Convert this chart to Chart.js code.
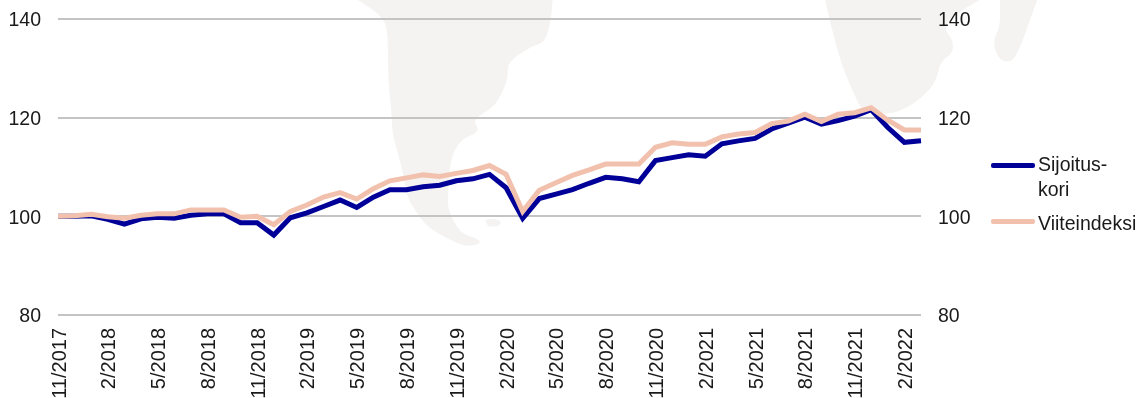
<!DOCTYPE html>
<html>
<head>
<meta charset="utf-8">
<style>
  html, body { margin: 0; padding: 0; background: #fff; overflow: hidden; }
  #wrap { position: relative; width: 1139px; height: 398px; overflow: hidden; }
  canvas { position: absolute; left: 0; top: 0; }
  .legend { position: absolute; left: 991px; font: 19.5px "Liberation Sans", Arial, sans-serif; color: #1a1a1a; line-height: 25px; white-space: pre; }
  .legend i { position: absolute; left: 0; width: 44px; height: 5px; border-radius: 2px; }
  .legend span { position: absolute; left: 47px; top: 0; }
</style>
</head>
<body>
<div id="wrap">
  <canvas id="chart" width="1139" height="398"></canvas>
  <div id="legend"></div>
</div>
<script src="https://cdn.jsdelivr.net/npm/chart.js@4"></script>
<script>
const months = [
  "11/2017", "12/2017", "1/2018", "2/2018", "3/2018", "4/2018", "5/2018", "6/2018", "7/2018", "8/2018", "9/2018", "10/2018",
  "11/2018", "12/2018", "1/2019", "2/2019", "3/2019", "4/2019", "5/2019", "6/2019", "7/2019", "8/2019", "9/2019", "10/2019",
  "11/2019", "12/2019", "1/2020", "2/2020", "3/2020", "4/2020", "5/2020", "6/2020", "7/2020", "8/2020", "9/2020", "10/2020",
  "11/2020", "12/2020", "1/2021", "2/2021", "3/2021", "4/2021", "5/2021", "6/2021", "7/2021", "8/2021", "9/2021", "10/2021",
  "11/2021", "12/2021", "1/2022", "2/2022", "3/2022",
]
const sijoituskori = [
  100, 100, 100.1, 99.4, 98.4, 99.5, 99.8, 99.6, 100.2, 100.5, 100.5, 98.7,
  98.7, 96.2, 99.7, 100.7, 102, 103.3, 101.8, 103.9, 105.4, 105.4, 106, 106.3,
  107.2, 107.6, 108.5, 105.8, 99.6, 103.6, 104.5, 105.4, 106.7, 107.9, 107.6, 107,
  111.3, 111.9, 112.5, 112.2, 114.7, 115.3, 115.8, 117.7, 118.9, 120.1, 118.7, 119.4,
  120.3, 121.6, 118, 115, 115.3,
]
const viiteindeksi = [
  100, 100.1, 100.4, 99.9, 99.6, 100.2, 100.5, 100.5, 101.3, 101.3, 101.3, 99.8,
  100, 98.3, 101, 102.3, 103.9, 104.8, 103.5, 105.6, 107.2, 107.8, 108.4, 108.1,
  108.7, 109.3, 110.3, 108.5, 101, 105.3, 106.8, 108.3, 109.4, 110.6, 110.6, 110.6,
  114, 114.9, 114.6, 114.6, 116.1, 116.7, 117, 118.8, 119.3, 120.7, 119.2, 120.7,
  121, 122, 119.5, 117.5, 117.5,
]
const yTicks = [80, 100, 120, 140]
const legendNames = ["Sijoitus-\nkori", "Viiteindeksi"]

const blue = "#000099"
const peach = "#f2c1ae"
const fontFamily = "'Liberation Sans', Arial, sans-serif"

// harmaat mantereet taustalla
const mapOutlines = [
  [[340,-12],[358,0],[385,18],[388,40],[388,80],[392,117],[392,133],[402,167],[407,197],[415,210],[427,227],[450,240],[467,247],[482,243],[476,238],[460,233],[448,210],[448,197],[450,160],[460,140],[477,133],[478,127],[473,120],[493,107],[498,100],[505,87],[508,75],[508,62],[530,47],[543,43],[548,33],[552,13],[553,-12]],
  [[485,220],[494,218],[502,222],[498,227],[488,226]],
  [[823,-12],[827,10],[833,33],[842,67],[857,100],[860,107],[873,115],[900,112],[923,97],[937,80],[940,62],[953,53],[953,40],[943,27],[957,13],[980,0],[995,-12]],
  [[1000,-12],[1000,7],[1000,27],[993,40],[997,57],[1007,63],[1017,57],[1037,0],[1042,-12]],
]
const mapPlugin = {
  id: "mapBackground",
  beforeDraw(chart) {
    const c = chart.ctx
    c.save()
    c.fillStyle = "#f4f3f2"
    mapOutlines.forEach(function (shape) {
      c.beginPath()
      c.moveTo(shape[0][0], shape[0][1])
      for (let i = 1; i < shape.length - 1; i++) {
        const midX = (shape[i][0] + shape[i + 1][0]) / 2
        const midY = (shape[i][1] + shape[i + 1][1]) / 2
        c.quadraticCurveTo(shape[i][0], shape[i][1], midX, midY)
      }
      c.lineTo(shape[shape.length - 1][0], shape[shape.length - 1][1])
      c.closePath()
      c.fill()
    })
    c.restore()
  },
}

function yAxis(position, width) {
  return {
    position: position,
    min: 80,
    max: 140,
    afterBuildTicks(axis) {
      axis.ticks = yTicks.map(function (v) { return { value: v } })
    },
    afterFit(axis) {
      axis.width = width
      axis.paddingTop = 0
      axis.paddingBottom = 0
    },
    border: { display: false },
    grid: { color: "#c4c4c4", lineWidth: 2, drawTicks: false, drawOnChartArea: position === "left" },
    ticks: { color: "#1a1a1a", font: { family: fontFamily, size: 19.5 }, padding: 17, labelOffset: 2 },
  }
}

new Chart(document.getElementById("chart"), {
  type: "line",
  data: {
    labels: months,
    datasets: [
      { label: "Sijoituskori", data: sijoituskori, borderColor: blue, borderWidth: 5, pointRadius: 0, tension: 0, order: 2, borderJoinStyle: "miter" },
      { label: "Viiteindeksi", data: viiteindeksi, borderColor: peach, borderWidth: 5, pointRadius: 0, tension: 0, order: 1, borderJoinStyle: "miter" },
    ],
  },
  options: {
    responsive: false,
    animation: false,
    layout: { padding: { top: 19, left: 0, right: 0, bottom: 0 } },
    plugins: { legend: { display: false }, tooltip: { enabled: false } },
    scales: {
      x: {
        offset: false,
        afterFit(axis) { axis.height = 83 },
        border: { display: false },
        grid: { display: false },
        ticks: {
          autoSkip: false,
          minRotation: 90,
          maxRotation: 90,
          padding: 5,
          labelOffset: 2,
          color: "#1a1a1a",
          font: { family: fontFamily, size: 20 },
          callback(value, index) {
            return index % 3 === 0 ? months[index] : ""
          },
        },
      },
      y: yAxis("left", 58),
      yRight: yAxis("right", 218),
    },
  },
  plugins: [mapPlugin],
})

// selite
const legendBox = document.getElementById("legend")
const legendTops = [152, 211]
const swatchTops = [11, 8]
const legendColors = [blue, peach]
legendNames.forEach(function (name, i) {
  const item = document.createElement("div")
  item.className = "legend"
  item.style.top = legendTops[i] + "px"
  const swatch = document.createElement("i")
  swatch.style.background = legendColors[i]
  swatch.style.top = swatchTops[i] + "px"
  const label = document.createElement("span")
  label.textContent = name
  item.appendChild(swatch)
  item.appendChild(label)
  legendBox.appendChild(item)
})
</script>
</body>
</html>
